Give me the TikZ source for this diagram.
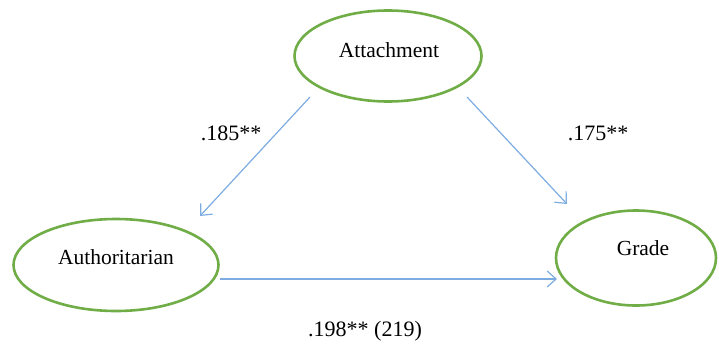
\documentclass[tikz,border=0pt]{standalone}
\usepackage{fontspec}
\setmainfont{Liberation Serif}
\usetikzlibrary{shapes.geometric,arrows.meta}
\definecolor{factorgreen}{RGB}{112,173,71}
\definecolor{pathblue}{RGB}{125,172,224}
\tikzset{
  factor/.style={ellipse,draw=factorgreen,line width=2.6pt,inner sep=0pt},
  factorname/.style={font=\fontsize{21.5}{24}\selectfont},
  coef/.style={font=\fontsize{22}{26}\selectfont},
  path/.style={draw=pathblue,line width=1.2pt,-{Straight Barb[length=9pt,width=16pt,line width=1.2pt]}}
}
\begin{document}
\begin{tikzpicture}[x=1pt,y=-1pt]
\useasboundingbox (0,0) rectangle (719,345);
\node[factor,minimum width=187,minimum height=91] (att) at (388,56) {};
\node[factor,minimum width=205,minimum height=92] (auth) at (116,265) {};
\node[factor,minimum width=160,minimum height=95] (grade) at (636,258) {};
\node[factorname] (atttext) at (389,50) {Attachment};
\node[factorname] (authtext) at (116,257) {Authoritarian};
\node[factorname] (gradetext) at (643,248) {Grade};
\coordinate (attsw) at (310,97);
\coordinate (attse) at (467,97);
\coordinate (authne) at (200,216);
\coordinate (authe) at (220,279);
\coordinate (gradenw) at (567,204);
\coordinate (gradew) at (557,279);
\draw[path] (attsw) -- (authne);
\draw[path] (attse) -- (gradenw);
\draw[path] (authe) -- (gradew);
\node[coef] (c1) at (231,133) {.185**};
\node[coef] (c2) at (598,133) {.175**};
\node[coef] (c3) at (365,331) {.198** (219)};
\end{tikzpicture}
\end{document}
